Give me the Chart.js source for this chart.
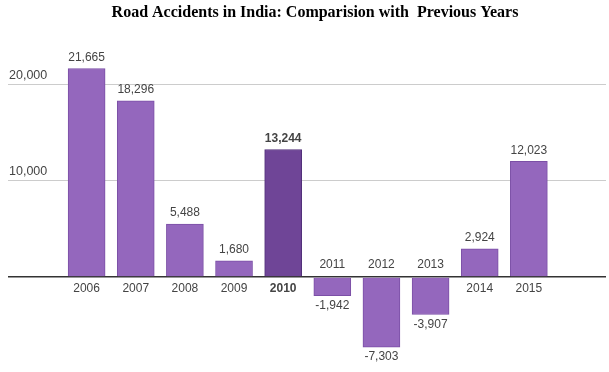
<!DOCTYPE html>
<html>
<head>
<meta charset="utf-8">
<script src="https://cdn.jsdelivr.net/npm/chart.js"></script>
<style>
  html, body { margin: 0; padding: 0; background: #fff; }
  #wrap { width: 609px; height: 372px; }
</style>
</head>
<body>
<div id="wrap"><canvas id="accidents"></canvas></div>
<script>
// change in road accidents vs previous year
const years = [2006, 2007, 2008, 2009, 2010, 2011, 2012, 2013, 2014, 2015];
const changes = [21665, 18296, 5488, 1680, 13244, -1942, -7303, -3907, 2924, 12023];
const yTicks = [0, 10000, 20000];
const highlightYear = 2010;
const title = 'Road Accidents in India: Comparision with  Previous Years';

const fmt = v => v.toLocaleString('en-US');
const labelFont = '12px "Liberation Sans", Arial, sans-serif';
const labelFontBold = 'bold 12px "Liberation Sans", Arial, sans-serif';

// title sits a bit right of centre, so draw it by hand
const titlePlugin = {
    id: 'titleText',
    afterDraw(chart) {
        const ctx = chart.ctx;
        ctx.save();
        ctx.font = 'bold 16px "Liberation Serif", "Times New Roman", serif';
        ctx.fillStyle = '#000';
        ctx.textAlign = 'center';
        ctx.textBaseline = 'middle';
        ctx.fillText(title, 315, 13);
        ctx.restore();
    }
};

// Google-style labels: value beyond the bar end, year on the other side of zero
const barLabels = {
    id: 'barLabels',
    afterDatasetsDraw(chart) {
        const ctx = chart.ctx;
        const zero = chart.scales.y.getPixelForValue(0);
        const meta = chart.getDatasetMeta(0);
        ctx.save();
        ctx.textAlign = 'center';
        ctx.textBaseline = 'middle';
        ctx.fillStyle = '#444';
        meta.data.forEach((bar, i) => {
            const v = changes[i];
            ctx.font = years[i] === highlightYear ? labelFontBold : labelFont;
            if (v >= 0) {
                ctx.fillText(fmt(v), bar.x, bar.y - 11);
                ctx.fillText(String(years[i]), bar.x, zero + 12);
            } else {
                ctx.fillText(String(years[i]), bar.x, zero - 12);
                ctx.fillText(fmt(v), bar.x, bar.y + 10);
            }
        });
        ctx.restore();
    }
};

new Chart(document.getElementById('accidents'), {
    type: 'bar',
    data: {
        datasets: [{
            data: years.map((yr, i) => ({ x: yr, y: changes[i] })),
            backgroundColor: c => years[c.dataIndex] === highlightYear ? '#6f4597' : '#9467bd',
            borderColor: c => years[c.dataIndex] === highlightYear ? '#52307a' : '#7b4fa6',
            borderWidth: 1,
            barThickness: 37
        }]
    },
    options: {
        responsive: true,
        maintainAspectRatio: false,
        animation: false,
        layout: { padding: { top: 46, left: 6, right: 3, bottom: 6 } },
        plugins: {
            legend: { display: false },
            tooltip: { enabled: false },
            title: { display: false }
        },
        scales: {
            x: {
                type: 'linear',
                min: 2004.4,
                max: 2016.57,
                offset: false,
                display: false
            },
            y: {
                min: -9000,
                max: 24000,
                afterBuildTicks: s => { s.ticks = yTicks.map(v => ({ value: v })); },
                border: { display: false },
                grid: {
                    drawTicks: false,
                    color: c => c.tick.value === 0 ? '#333' : '#ccc',
                    lineWidth: c => c.tick.value === 0 ? 1.5 : 1
                },
                ticks: {
                    mirror: true,
                    padding: 1,
                    labelOffset: -9,
                    color: '#444',
                    font: { family: '"Liberation Sans", Arial, sans-serif', size: 12.5 },
                    callback: v => v === 0 ? '' : fmt(v)
                }
            }
        }
    },
    plugins: [barLabels, titlePlugin]
});
</script>
</body>
</html>
